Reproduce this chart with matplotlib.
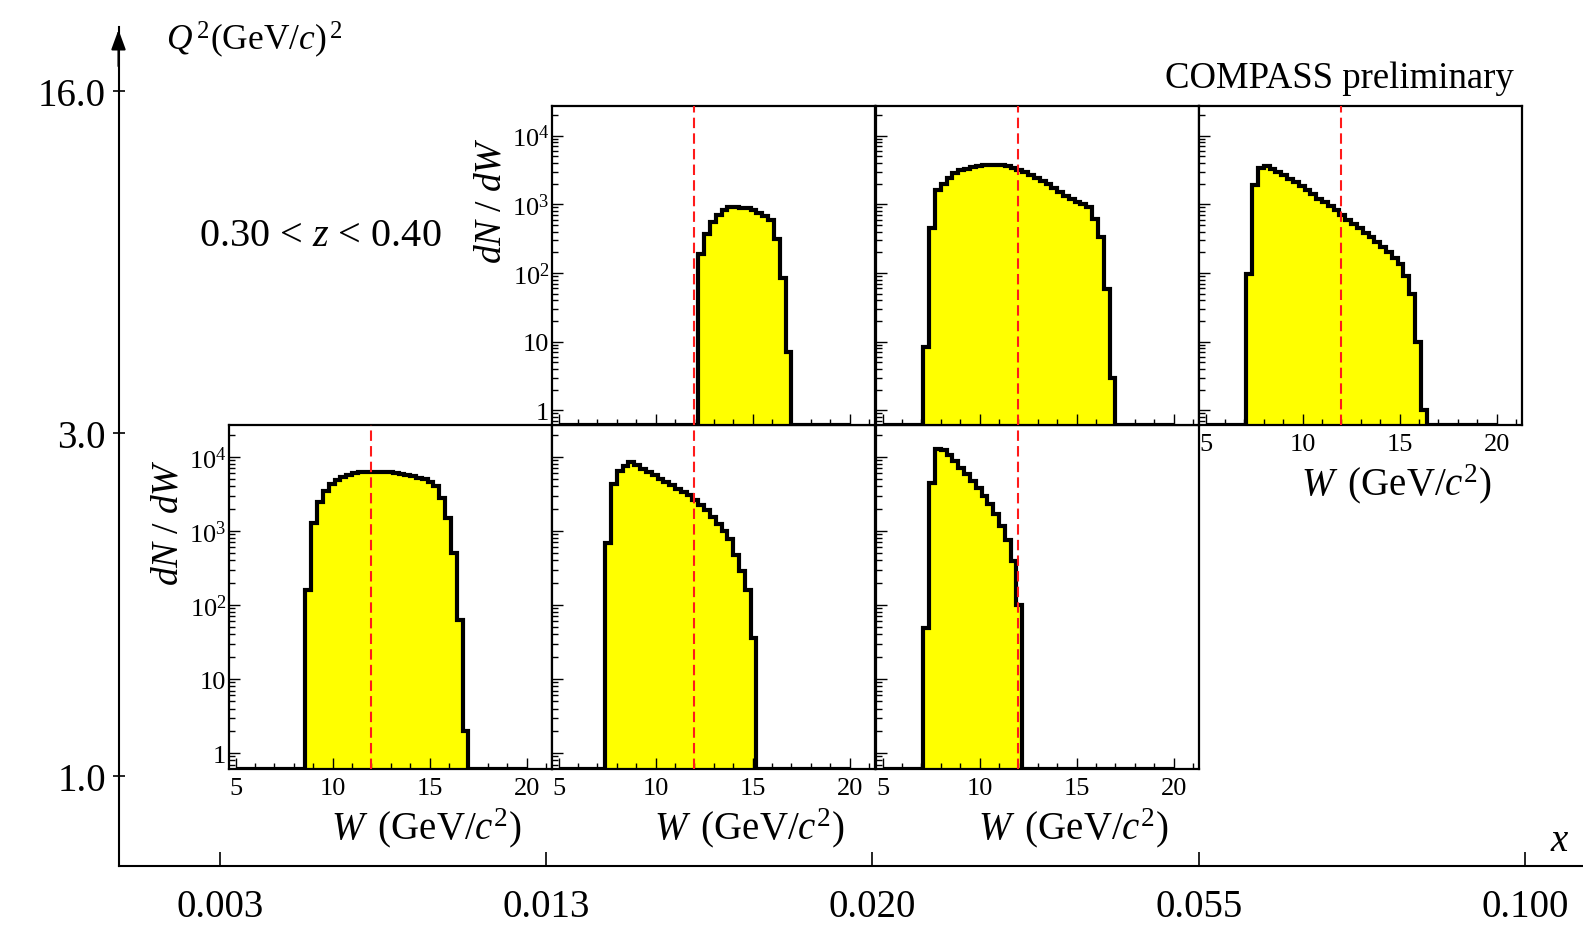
import numpy as np
import matplotlib
matplotlib.use("Agg")
import matplotlib.pyplot as plt
from matplotlib.ticker import LogLocator, MultipleLocator, FixedLocator, NullFormatter

plt.rcParams['font.family'] = ['Liberation Serif', 'DejaVu Serif']
plt.rcParams['mathtext.fontset'] = 'custom'
plt.rcParams['mathtext.rm'] = 'Liberation Serif'
plt.rcParams['mathtext.it'] = 'Liberation Serif:italic'
plt.rcParams['mathtext.bf'] = 'Liberation Serif:bold'

# ---------------- data ----------------
x_bin_labels = ["0.003", "0.013", "0.020", "0.055", "0.100"]
q2_bin_labels = ["1.0", "3.0", "16.0"]
z_label = r"0.30 < $z$ < 0.40"

# W histogram binning
w_min, w_max, w_width = 5.0, 20.0, 0.3
w_cut = 12.0

# each panel: x-bin index, Q2-bin index, first filled bin low edge, counts
panel_col = [0, 1, 2, 1, 2, 3]
panel_row = [0, 0, 0, 1, 1, 1]
panel_start = [8.6, 7.4, 7.1, 12.2, 7.1, 7.1]

counts_x0_q0 = [162, 1290, 2460, 3470, 4270, 4900, 5370, 5730, 5990, 6170, 6270, 6340,
                6340, 6270, 6170, 6030, 5900, 5730, 5540, 5270, 4990, 4580, 4040, 2820,
                1510, 510, 63, 2]
counts_x1_q0 = [692, 4370, 6470, 7590, 8420, 7760, 6840, 6270, 5730, 5100, 4590, 4140,
                3740, 3410, 3040, 2620, 2220, 1900, 1550, 1260, 1000, 769, 480, 285, 162, 36]
counts_x2_q0 = [49, 4490, 12900, 12600, 10700, 8900, 7200, 5870, 4770, 3800, 2970, 2300,
                1680, 1170, 745, 390, 99]
counts_x1_q1 = [186, 375, 555, 690, 815, 905, 917, 895, 870, 820, 740, 670, 600, 310, 85, 7]
counts_x2_q1 = [8.3, 445, 1600, 2000, 2450, 2870, 3140, 3300, 3490, 3650, 3740, 3780, 3780,
                3700, 3570, 3390, 3140, 2940, 2700, 2450, 2180, 1960, 1740, 1520, 1310, 1180,
                1090, 1000, 912, 616, 339, 59, 3]
counts_x3_q1 = [98, 1900, 3390, 3640, 3310, 2960, 2650, 2360, 2130, 1830, 1600, 1390, 1210,
                1090, 950, 815, 690, 600, 520, 445, 383, 337, 284, 240, 200, 165, 135, 89,
                49, 10, 1]
panel_counts = [counts_x0_q0, counts_x1_q0, counts_x2_q0,
                counts_x1_q1, counts_x2_q1, counts_x3_q1]

# ---------------- layout ----------------
FW, FH = 1583, 928
fig = plt.figure(figsize=(FW / 100, FH / 100), dpi=100)


def px_rect(x0, y0, x1, y1):
    return [x0 / FW, 1 - y1 / FH, (x1 - x0) / FW, (y1 - y0) / FH]


# outer (x, Q2) frame
ax0 = fig.add_axes(px_rect(118.5, 28, 1583, 867))
ax0.patch.set_visible(False)
ax0.set_xlim(-0.311, 4.178)
ax0.set_ylim(-0.263, 2.187)
ax0.set_xticks(range(len(x_bin_labels)))
ax0.set_xticklabels(x_bin_labels)
ax0.set_yticks(range(len(q2_bin_labels)))
ax0.set_yticklabels(q2_bin_labels)
for s in ("top", "right"):
    ax0.spines[s].set_visible(False)
for s in ("left", "bottom"):
    ax0.spines[s].set_linewidth(1.5)
ax0.tick_params(axis="x", direction="in", length=10, width=1.2, labelsize=28, pad=16)
ax0.tick_params(axis="y", direction="inout", length=8, width=1.2, labelsize=28, pad=5)
ax0.annotate("", xy=(0, 1.0), xycoords="axes fraction", xytext=(0, 0.95),
             arrowprops=dict(arrowstyle="-|>,head_length=0.6,head_width=0.22",
                             color="k", lw=1.5, mutation_scale=20))

fig.text(166 / FW, 1 - 50 / FH, r"$Q^{\,2}$(GeV/$c$)$^{\,2}$", fontsize=25.5, va="baseline")
fig.text(1514 / FW, 1 - 79 / FH, "COMPASS preliminary", fontsize=26.5, ha="right", va="center")
fig.text(199 / FW, 1 - 236 / FH, z_label, fontsize=29, va="center")
fig.text(1560 / FW, 1 - 842 / FH, r"$x$", fontsize=28, va="center", ha="center")

col_left = [229, 552, 876, 1199]
panel_w = 323
row_top = {0: 426, 1: 107}
row_bot = {0: 770, 1: 426}

edges = np.round(np.arange(w_min, w_max + w_width / 2, w_width), 4)
nbins = len(edges) - 1
ymin, ymax = 0.61, 2.7e4

for k in range(len(panel_counts)):
    c, r = panel_col[k], panel_row[k]
    x0 = col_left[c]
    y0, y1 = row_top[r], row_bot[r]
    ax = fig.add_axes(px_rect(x0, y0, x0 + panel_w, y1))
    ax.set_yscale("log")
    ax.set_xlim(4.66, 21.31)
    ax.set_ylim(ymin, ymax)

    cnt = np.zeros(nbins)
    i0 = int(round((panel_start[k] - w_min) / w_width))
    vals = panel_counts[k]
    cnt[i0:i0 + len(vals)] = vals
    draw = np.where(cnt > 0, cnt, ymin)
    ax.stairs(draw, edges, baseline=ymin, fill=True, facecolor="#ffff00",
              edgecolor="none", zorder=1)
    ax.stairs(draw, edges, baseline=None, color="k", lw=3.0, zorder=2)
    ax.axvline(w_cut, color="#ff1a1a", lw=1.5, dashes=(5, 2.5), zorder=3)

    for s in ax.spines.values():
        s.set_linewidth(1.6)
    ax.set_yticks([1, 10, 100, 1000, 10000])
    ax.yaxis.set_minor_locator(LogLocator(base=10, subs=np.arange(2, 10)))
    ax.yaxis.set_minor_formatter(NullFormatter())
    ax.xaxis.set_major_locator(FixedLocator([5, 10, 15, 20]))
    ax.xaxis.set_minor_locator(MultipleLocator(1))
    ax.tick_params(which="major", direction="in", length=8, width=1.0,
                   labelsize=19, top=False, right=False)
    ax.tick_params(which="minor", direction="in", length=4, width=1.0,
                   top=False, right=False)
    ax.tick_params(axis="x", pad=6)
    ax.tick_params(axis="y", pad=2)

    show_y = (c == 0 and r == 0) or (c == 1 and r == 1)
    show_x = (r == 0) or (c == 3)
    if show_y:
        ax.set_yticklabels(["1", "10", r"$10^{2}$", r"$10^{3}$", r"$10^{4}$"])
        ax.set_ylabel(r"$dN\ /\ dW$", fontsize=27, loc="top")
        ax.yaxis.set_label_coords(-0.135, 0.905)
    else:
        ax.set_yticklabels([])
    if show_x:
        ax.set_xticklabels(["5", "10", "15", "20"])
        ax.set_xlabel(r"$W\,$ (GeV/$c^{2}$)", fontsize=28, loc="right")
        ax.xaxis.set_label_coords(0.905, -36 / (y1 - y0))
    else:
        ax.set_xticklabels([])

fig.savefig("out.png", dpi=100)
